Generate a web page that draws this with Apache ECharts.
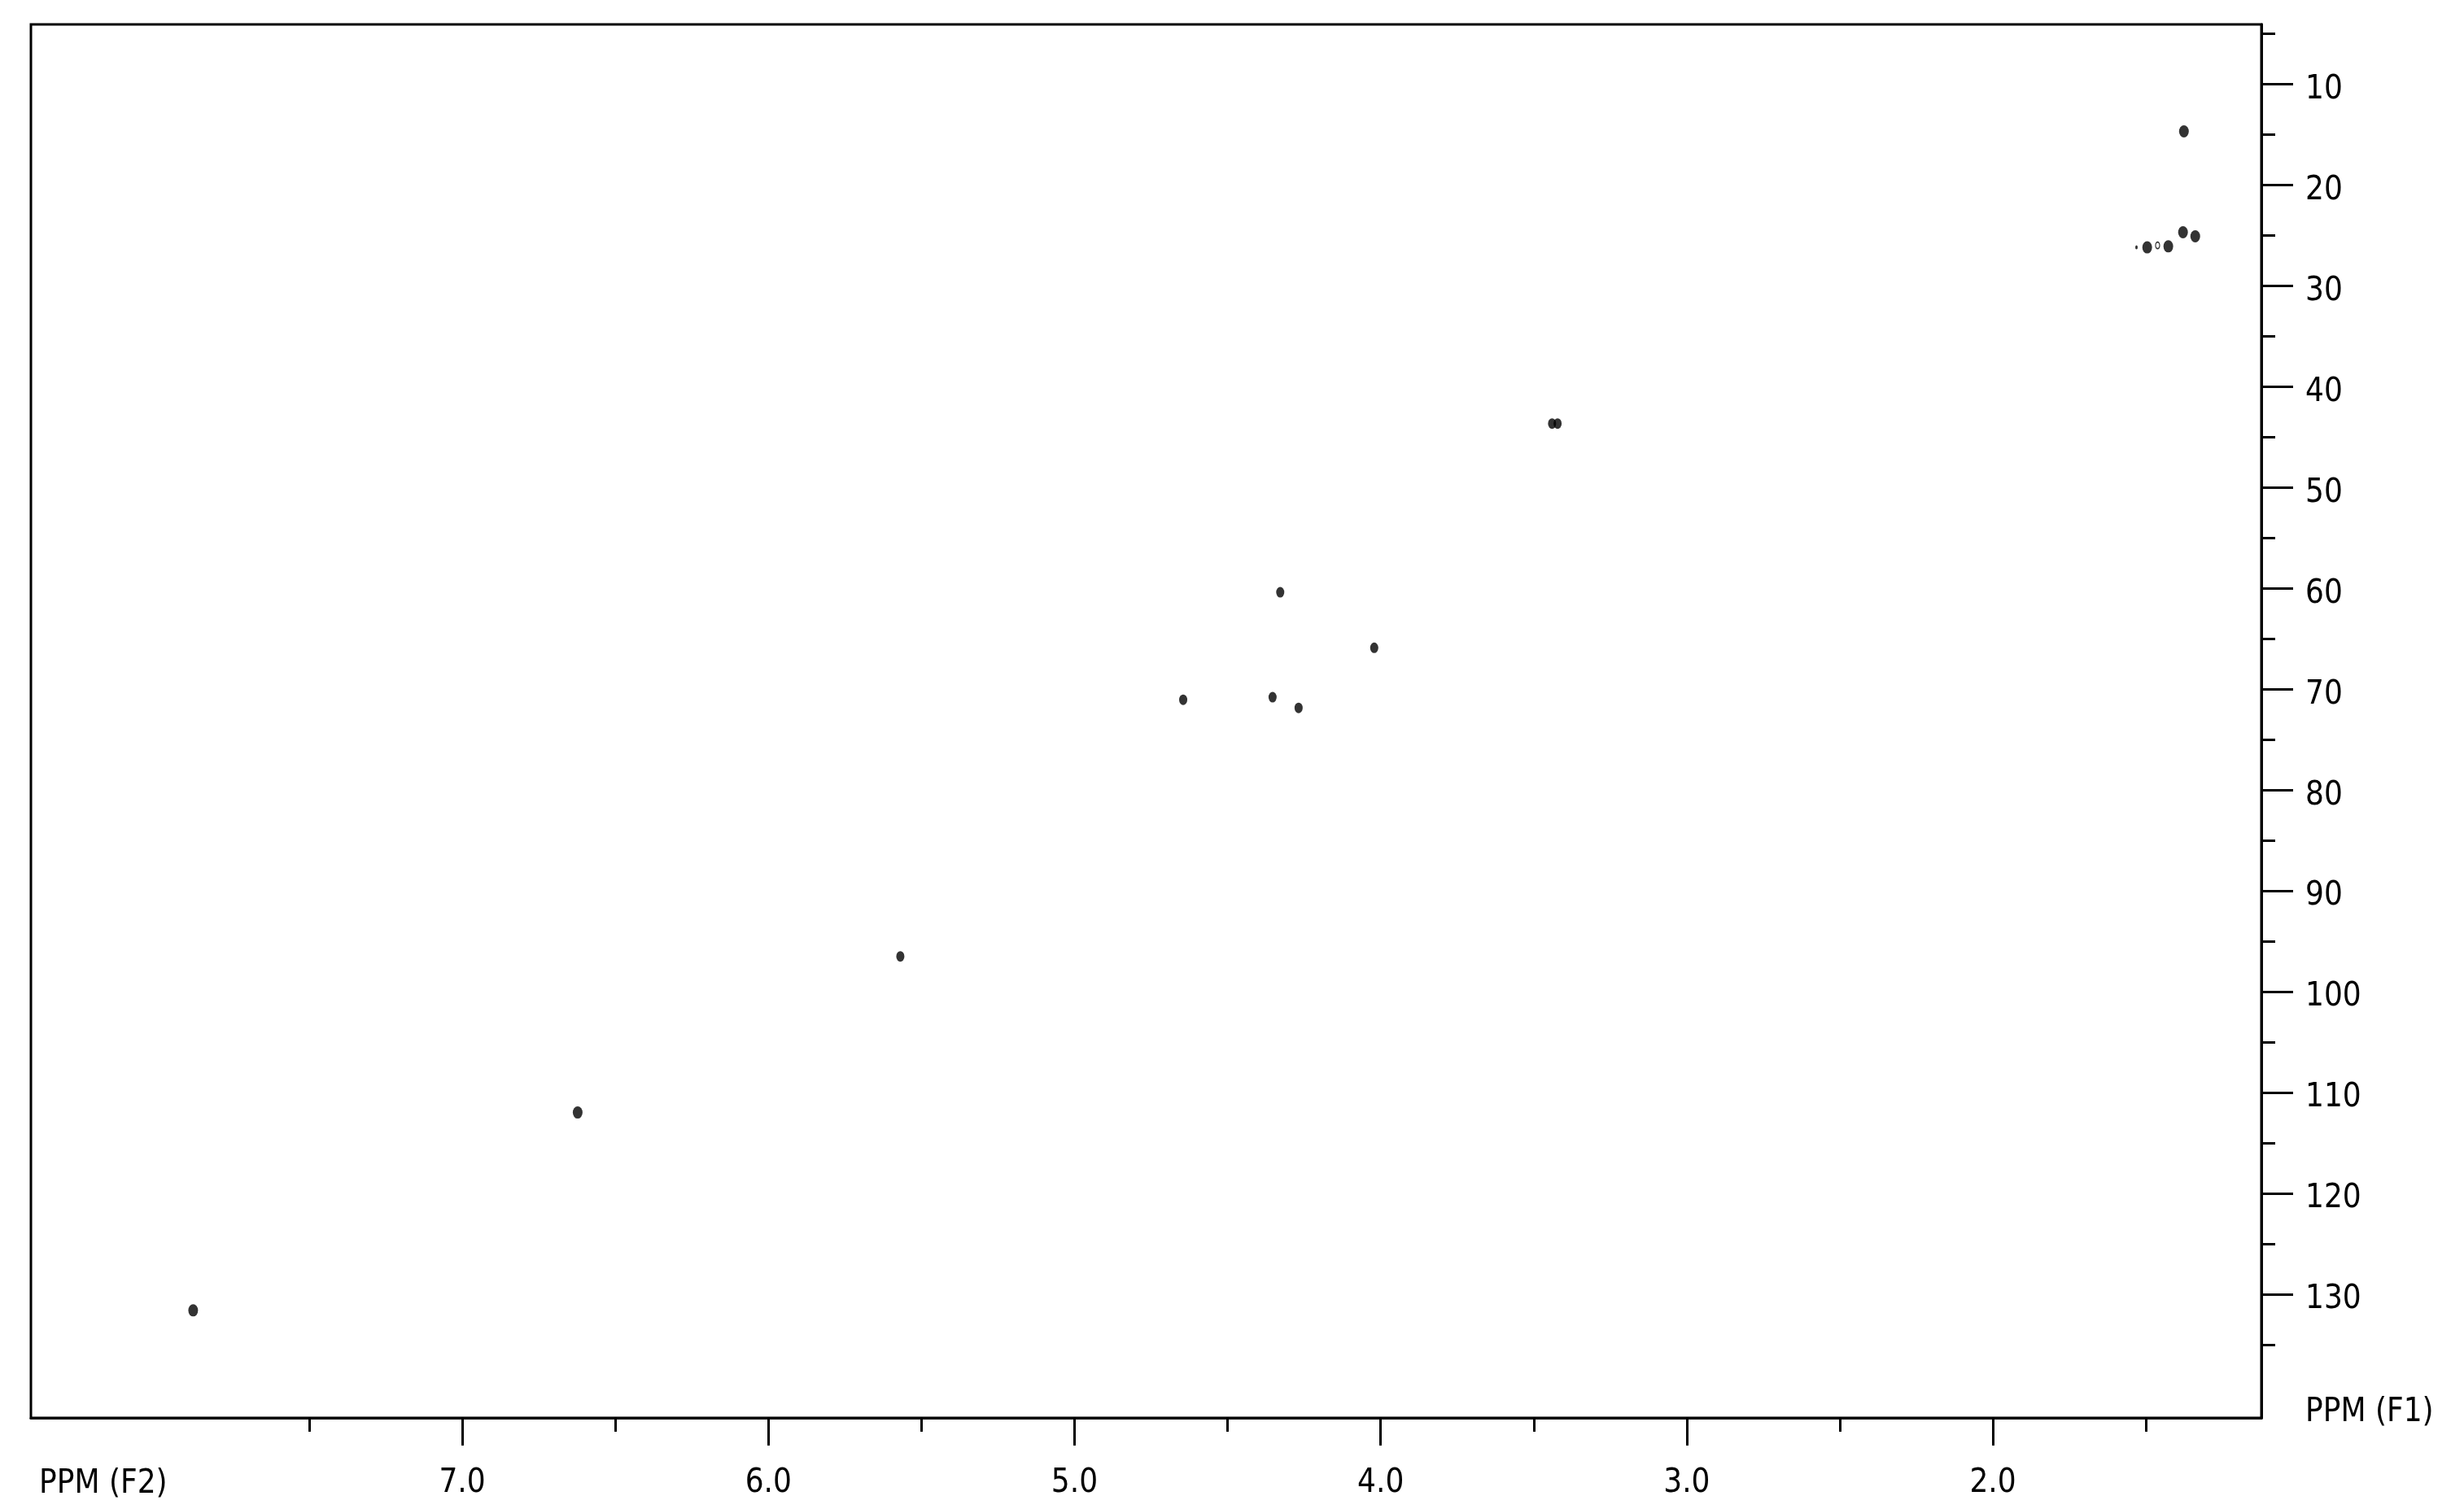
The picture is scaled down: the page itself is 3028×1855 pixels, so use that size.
<!DOCTYPE html>
<html>
<head>
<meta charset="utf-8">
<title>HSQC</title>
<script src="https://cdn.jsdelivr.net/npm/echarts@6/dist/echarts.min.js"></script>
<style>
  html, body { margin: 0; padding: 0; background: #fff; }
  #main { width: 3028px; height: 1855px; }
</style>
</head>
<body>
<div id="main"></div>
<script>
// axis ranges (ppm)
var f2Range = [1.123, 8.409];
var f1Range = [4.09, 142.26];

// tick positions
var f2Major = [2.0, 3.0, 4.0, 5.0, 6.0, 7.0];
var f2Minor = [1.5, 2.5, 3.5, 4.5, 5.5, 6.5, 7.5];
var f1Major = [10, 20, 30, 40, 50, 60, 70, 80, 90, 100, 110, 120, 130];
var f1Minor = [5, 15, 25, 35, 45, 55, 65, 75, 85, 95, 105, 115, 125, 135];

// cross peaks: F2 (1H) and F1 (13C)
var strongF2 = [7.879, 6.623, 1.376, 1.379, 1.339, 1.496, 1.427];
var strongF1 = [131.6, 111.98, 14.7, 24.7, 25.1, 26.2, 26.1];
var weakF2 = [5.569, 4.645, 4.353, 4.268, 4.328, 4.021, 3.440, 3.422];
var weakF1 = [96.5, 71.05, 70.8, 71.86, 60.4, 65.9, 43.67, 43.67];
var ringF2 = [1.462];
var ringF1 = [26.0];
var tinyF2 = [1.531];
var tinyF1 = [26.2];

function pairs(xs, ys){
  var out = [];
  for (var i = 0; i < xs.length; i++) out.push([xs[i], ys[i]]);
  return out;
}

var font = 'DejaVu Sans Condensed';

var option = {
  animation: false,
  backgroundColor: '#fff',
  grid: {
    left: 38,
    top: 30,
    right: 249,
    bottom: 112,
    show: true,
    borderColor: '#000',
    borderWidth: 3
  },
  xAxis: [
    {
      type: 'value',
      inverse: true,
      min: f2Range[0],
      max: f2Range[1],
      position: 'bottom',
      axisLine: { show: true, lineStyle: { color: '#000', width: 3 } },
      splitLine: { show: false },
      axisTick: {
        show: true, length: 34, customValues: f2Major,
        lineStyle: { color: '#000', width: 3 }
      },
      axisLabel: {
        customValues: f2Major,
        margin: 61,
        color: '#000',
        fontSize: 40,
        fontFamily: font,
        formatter: function(v){ return v.toFixed(1); }
      }
    },
    {
      type: 'value',
      inverse: true,
      min: f2Range[0],
      max: f2Range[1],
      position: 'bottom',
      axisLine: { show: false },
      splitLine: { show: false },
      axisTick: {
        show: true, length: 17, customValues: f2Minor,
        lineStyle: { color: '#000', width: 3 }
      },
      axisLabel: { show: false }
    }
  ],
  yAxis: [
    {
      type: 'value',
      inverse: true,
      min: f1Range[0],
      max: f1Range[1],
      position: 'right',
      axisLine: { show: true, lineStyle: { color: '#000', width: 3 } },
      splitLine: { show: false },
      axisTick: {
        show: true, length: 39, customValues: f1Major,
        lineStyle: { color: '#000', width: 3 }
      },
      axisLabel: {
        customValues: f1Major,
        margin: 54,
        formatter: function(v){ return '{t|' + v + '}'; },
        rich: {
          t: {
            color: '#000',
            fontSize: 40,
            fontFamily: font,
            padding: [14, 0, 0, 0]
          }
        }
      }
    },
    {
      type: 'value',
      inverse: true,
      min: f1Range[0],
      max: f1Range[1],
      position: 'right',
      axisLine: { show: false },
      splitLine: { show: false },
      axisTick: {
        show: true, length: 17, customValues: f1Minor,
        lineStyle: { color: '#000', width: 3 }
      },
      axisLabel: { show: false }
    }
  ],
  graphic: [
    {
      type: 'text', x: 48, y: 1825,
      style: { text: 'PPM (F2)', fill: '#000', fontSize: 40, fontFamily: font, verticalAlign: 'middle' }
    },
    {
      type: 'text', x: 2833, y: 1737,
      style: { text: 'PPM (F1)', fill: '#000', fontSize: 40, fontFamily: font, verticalAlign: 'middle' }
    }
  ],
  series: [
    {
      name: 'strong',
      type: 'scatter',
      symbol: 'circle',
      symbolSize: [12, 15],
      itemStyle: { color: '#000' },
      data: pairs(strongF2, strongF1)
    },
    {
      name: 'weak',
      type: 'scatter',
      symbol: 'circle',
      symbolSize: [10, 13],
      itemStyle: { color: '#000' },
      data: pairs(weakF2, weakF1)
    },
    {
      name: 'ring',
      type: 'scatter',
      symbol: 'circle',
      symbolSize: [5, 8],
      itemStyle: { color: '#fff', borderColor: '#000', borderWidth: 1.5 },
      data: pairs(ringF2, ringF1)
    },
    {
      name: 'tiny',
      type: 'scatter',
      symbol: 'circle',
      symbolSize: [3, 5],
      itemStyle: { color: '#000' },
      data: pairs(tinyF2, tinyF1)
    }
  ]
};

var myChart = echarts.init(document.getElementById('main'));
myChart.setOption(option);

window.addEventListener('resize', function(){
  myChart.resize();
});
</script>
</body>
</html>
